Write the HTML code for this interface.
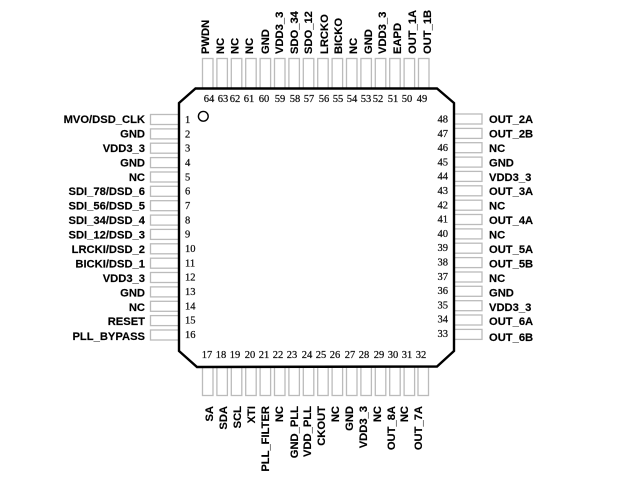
<!DOCTYPE html>
<html>
<head>
<meta charset="utf-8">
<style>
html,body{margin:0;padding:0;background:#fff}
svg{display:block}
.l{font:bold 11.2px "Liberation Sans",sans-serif;fill:#000;stroke:#000;stroke-width:.15}
.n{font:normal 10.5px "Liberation Serif",serif;fill:#111;stroke:#111;stroke-width:.25}
.p{fill:#fff;stroke:#bbb;stroke-width:1.3}
</style>
</head>
<body>
<svg width="640" height="480" viewBox="0 0 640 480" xmlns="http://www.w3.org/2000/svg">
<g class="p">
<rect x="202.5" y="58.5" width="10.5" height="30"/><rect x="216.9" y="58.5" width="10.5" height="30"/><rect x="231.3" y="58.5" width="10.5" height="30"/><rect x="245.7" y="58.5" width="10.5" height="30"/><rect x="260.1" y="58.5" width="10.5" height="30"/><rect x="274.5" y="58.5" width="10.5" height="30"/><rect x="288.9" y="58.5" width="10.5" height="30"/><rect x="303.3" y="58.5" width="10.5" height="30"/><rect x="317.7" y="58.5" width="10.5" height="30"/><rect x="332.1" y="58.5" width="10.5" height="30"/><rect x="346.5" y="58.5" width="10.5" height="30"/><rect x="360.9" y="58.5" width="10.5" height="30"/><rect x="375.3" y="58.5" width="10.5" height="30"/><rect x="389.7" y="58.5" width="10.5" height="30"/><rect x="404.1" y="58.5" width="10.5" height="30"/><rect x="418.5" y="58.5" width="10.5" height="30"/>
<rect x="202.5" y="366" width="10.5" height="29.5"/><rect x="216.9" y="366" width="10.5" height="29.5"/><rect x="231.3" y="366" width="10.5" height="29.5"/><rect x="245.7" y="366" width="10.5" height="29.5"/><rect x="260.1" y="366" width="10.5" height="29.5"/><rect x="274.5" y="366" width="10.5" height="29.5"/><rect x="288.9" y="366" width="10.5" height="29.5"/><rect x="303.3" y="366" width="10.5" height="29.5"/><rect x="317.7" y="366" width="10.5" height="29.5"/><rect x="332.1" y="366" width="10.5" height="29.5"/><rect x="346.5" y="366" width="10.5" height="29.5"/><rect x="360.9" y="366" width="10.5" height="29.5"/><rect x="375.3" y="366" width="10.5" height="29.5"/><rect x="389.7" y="366" width="10.5" height="29.5"/><rect x="404.1" y="366" width="10.5" height="29.5"/><rect x="418" y="366" width="10.5" height="29.5"/>
<rect x="150.5" y="114.5" width="29" height="10"/><rect x="150.5" y="128.9" width="29" height="10"/><rect x="150.5" y="143.2" width="29" height="10"/><rect x="150.5" y="157.6" width="29" height="10"/><rect x="150.5" y="172" width="29" height="10"/><rect x="150.5" y="186.3" width="29" height="10"/><rect x="150.5" y="200.7" width="29" height="10"/><rect x="150.5" y="215.1" width="29" height="10"/><rect x="150.5" y="229.4" width="29" height="10"/><rect x="150.5" y="243.8" width="29" height="10"/><rect x="150.5" y="258.2" width="29" height="10"/><rect x="150.5" y="272.5" width="29" height="10"/><rect x="150.5" y="286.9" width="29" height="10"/><rect x="150.5" y="301.3" width="29" height="10"/><rect x="150.5" y="315.6" width="29" height="10"/><rect x="150.5" y="330" width="29" height="10"/>
<rect x="454" y="114" width="28" height="10"/><rect x="454" y="128.4" width="28" height="10"/><rect x="454" y="142.7" width="28" height="10"/><rect x="454" y="157.1" width="28" height="10"/><rect x="454" y="171.4" width="28" height="10"/><rect x="454" y="185.8" width="28" height="10"/><rect x="454" y="200.2" width="28" height="10"/><rect x="454" y="214.5" width="28" height="10"/><rect x="454" y="228.9" width="28" height="10"/><rect x="454" y="243.2" width="28" height="10"/><rect x="454" y="257.6" width="28" height="10"/><rect x="454" y="272" width="28" height="10"/><rect x="454" y="286.3" width="28" height="10"/><rect x="454" y="300.7" width="28" height="10"/><rect x="454" y="315" width="28" height="10"/><rect x="454" y="329.4" width="28" height="10"/>
</g>
<polygon points="195.5,88.5 437,88.5 454,103 454,351 437,366.5 197,367 179,351 179,103" fill="#fff" stroke="#000" stroke-width="2.4"/>
<circle cx="203.3" cy="116.3" r="4.9" fill="#fff" stroke="#000" stroke-width="1.4"/>
<g class="l" text-anchor="end">
<text x="145" y="123">MVO/DSD_CLK</text><text x="145" y="137.5">GND</text><text x="145" y="152">VDD3_3</text><text x="145" y="166.3">GND</text><text x="145" y="180.8">NC</text><text x="145" y="195.2">SDI_78/DSD_6</text><text x="145" y="209.7">SDI_56/DSD_5</text><text x="145" y="224.1">SDI_34/DSD_4</text><text x="145" y="238.6">SDI_12/DSD_3</text><text x="145" y="253">LRCKI/DSD_2</text><text x="145" y="267.4">BICKI/DSD_1</text><text x="145" y="281.9">VDD3_3</text><text x="145" y="296.3">GND</text><text x="145" y="310.8">NC</text><text x="145" y="325.2">RESET</text><text x="145" y="340">PLL_BYPASS</text>
</g>
<g class="l">
<text x="489" y="123">OUT_2A</text><text x="489" y="137.5">OUT_2B</text><text x="489" y="152">NC</text><text x="489" y="166.3">GND</text><text x="489" y="180.8">VDD3_3</text><text x="489" y="195.2">OUT_3A</text><text x="489" y="209.7">NC</text><text x="489" y="224.1">OUT_4A</text><text x="489" y="238.6">NC</text><text x="489" y="253">OUT_5A</text><text x="489" y="267.4">OUT_5B</text><text x="489" y="281.9">NC</text><text x="489" y="296.3">GND</text><text x="489" y="310.8">VDD3_3</text><text x="489" y="325.2">OUT_6A</text><text x="489" y="341">OUT_6B</text>
</g>
<g class="l" text-anchor="start">
<text transform="translate(209,54) rotate(-90)">PWDN</text><text transform="translate(224,54) rotate(-90)">NC</text><text transform="translate(238.5,54) rotate(-90)">NC</text><text transform="translate(253,54) rotate(-90)">NC</text><text transform="translate(269,54) rotate(-90)">GND</text><text transform="translate(283,54) rotate(-90)">VDD3_3</text><text transform="translate(298,54) rotate(-90)">SDO_34</text><text transform="translate(312,54) rotate(-90)">SDO_12</text><text transform="translate(328,54) rotate(-90)">LRCKO</text><text transform="translate(342,54) rotate(-90)">BICKO</text><text transform="translate(357,54) rotate(-90)">NC</text><text transform="translate(372,54) rotate(-90)">GND</text><text transform="translate(386,54) rotate(-90)">VDD3_3</text><text transform="translate(401,54) rotate(-90)">EAPD</text><text transform="translate(416,54) rotate(-90)">OUT_1A</text><text transform="translate(431,54) rotate(-90)">OUT_1B</text>
</g>
<g class="l" text-anchor="end">
<text transform="translate(213,406) rotate(-90)">SA</text><text transform="translate(227,406) rotate(-90)">SDA</text><text transform="translate(241,406) rotate(-90)">SCL</text><text transform="translate(255,406) rotate(-90)">XTI</text><text transform="translate(269,406) rotate(-90)">PLL_FILTER</text><text transform="translate(283,406) rotate(-90)">NC</text><text transform="translate(298,406) rotate(-90)">GND_PLL</text><text transform="translate(311,406) rotate(-90)">VDD_PLL</text><text transform="translate(325,406) rotate(-90)">CKOUT</text><text transform="translate(339,406) rotate(-90)">NC</text><text transform="translate(353,406) rotate(-90)">GND</text><text transform="translate(367,406) rotate(-90)">VDD3_3</text><text transform="translate(381,406) rotate(-90)">NC</text><text transform="translate(395,406) rotate(-90)">OUT_8A</text><text transform="translate(408,406) rotate(-90)">NC</text><text transform="translate(422,406) rotate(-90)">OUT_7A</text>
</g>
<g class="n" text-anchor="middle">
<text x="209" y="102">64</text><text x="223" y="102">63</text><text x="235" y="102">62</text><text x="249" y="102">61</text><text x="264" y="102">60</text><text x="280" y="102">59</text><text x="295" y="102">58</text><text x="309" y="102">57</text><text x="324" y="102">56</text><text x="338" y="102">55</text><text x="352" y="102">54</text><text x="366" y="102">53</text><text x="378" y="102">52</text><text x="393" y="102">51</text><text x="407" y="102">50</text><text x="422" y="102">49</text>
<text x="207" y="358">17</text><text x="221" y="358">18</text><text x="235" y="358">19</text><text x="250" y="358">20</text><text x="264" y="358">21</text><text x="278" y="358">22</text><text x="292" y="358">23</text><text x="307" y="358">24</text><text x="321" y="358">25</text><text x="335" y="358">26</text><text x="350" y="358">27</text><text x="364" y="358">28</text><text x="379" y="358">29</text><text x="393" y="358">30</text><text x="407" y="358">31</text><text x="421" y="358">32</text>
</g>
<g class="n">
<text x="185" y="123">1</text><text x="185" y="137.4">2</text><text x="185" y="151.7">3</text><text x="185" y="166">4</text><text x="185" y="180.3">5</text><text x="185" y="194.7">6</text><text x="185" y="209">7</text><text x="185" y="223.3">8</text><text x="185" y="237.6">9</text><text x="185" y="252">10</text><text x="185" y="266.3">11</text><text x="185" y="280.6">12</text><text x="185" y="295">13</text><text x="185" y="309.3">14</text><text x="185" y="323.6">15</text><text x="185" y="338">16</text>
</g>
<g class="n" text-anchor="end">
<text x="448" y="122.5">48</text><text x="448" y="136.8">47</text><text x="448" y="151.1">46</text><text x="448" y="165.4">45</text><text x="448" y="179.7">44</text><text x="448" y="194">43</text><text x="448" y="208.3">42</text><text x="448" y="222.6">41</text><text x="448" y="236.9">40</text><text x="448" y="251.2">39</text><text x="448" y="265.5">38</text><text x="448" y="279.8">37</text><text x="448" y="294.1">36</text><text x="448" y="308.4">35</text><text x="448" y="322.7">34</text><text x="448" y="337">33</text>
</g>
</svg>
</body>
</html>
